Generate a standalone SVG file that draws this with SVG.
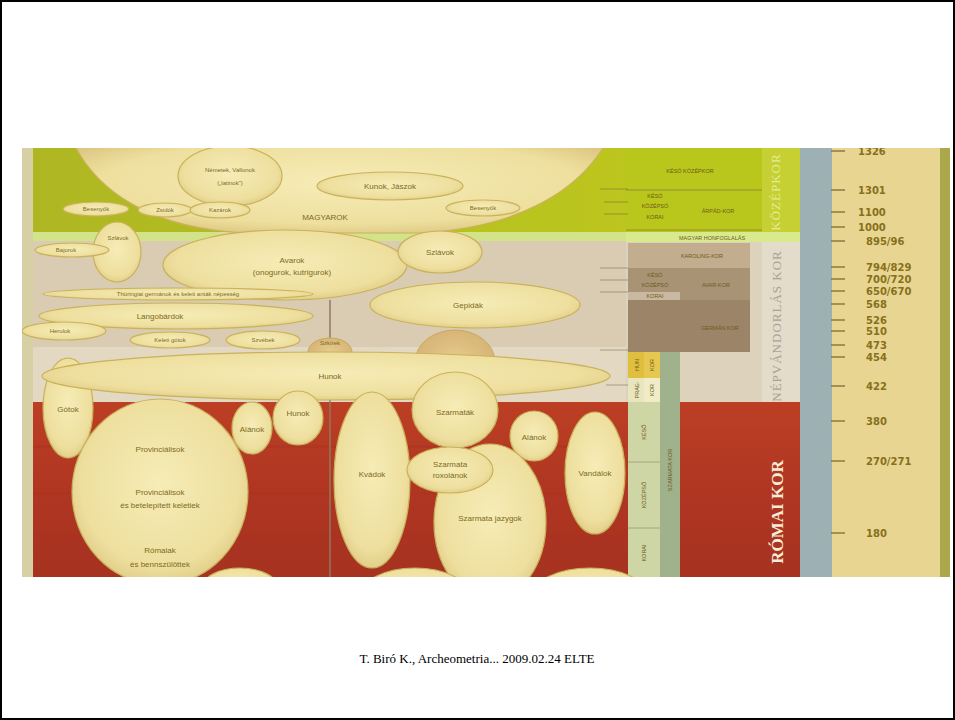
<svg xmlns="http://www.w3.org/2000/svg" width="955" height="720" viewBox="0 0 955 720">
<defs>
<clipPath id="photo"><rect x="22" y="148" width="928" height="429"/></clipPath>
<radialGradient id="cream" cx="0.5" cy="0.45" r="0.6">
<stop offset="0" stop-color="#f6ecb6"/><stop offset="0.75" stop-color="#eedf9e"/><stop offset="1" stop-color="#dcc680"/>
</radialGradient>
<radialGradient id="tan" cx="0.5" cy="0.5" r="0.6">
<stop offset="0" stop-color="#e6cc8e"/><stop offset="1" stop-color="#d4b072"/>
</radialGradient>
<linearGradient id="redg" x1="0" y1="0" x2="0" y2="1">
<stop offset="0" stop-color="#bc3f24"/><stop offset="0.5" stop-color="#b03622"/><stop offset="1" stop-color="#a63220"/>
</linearGradient>
<linearGradient id="greeng" x1="0" y1="0" x2="1" y2="0">
<stop offset="0" stop-color="#aeb622"/><stop offset="1" stop-color="#bcc61e"/>
</linearGradient>
</defs>
<style>
.el{fill:url(#cream);stroke:#c9b25a;stroke-width:1.2}
.tn{fill:url(#tan);stroke:#c9a860;stroke-width:1}
.lb{font-family:"Liberation Sans",Arial,sans-serif;font-size:8px;fill:#7d6a1e;text-anchor:middle}
.lbs{font-family:"Liberation Sans",Arial,sans-serif;font-size:6px;fill:#7d6a1e;text-anchor:middle}
.per{font-family:"Liberation Sans",Arial,sans-serif;font-size:5.5px;fill:#6e5a1a;text-anchor:middle}
.vt{font-family:"Liberation Serif","Times New Roman",serif;text-anchor:middle}
.num{font-family:"DejaVu Sans","Liberation Sans",sans-serif;font-size:10px;font-weight:bold;fill:#86701a}
.tick{stroke:#8a7a40;stroke-width:1.5}
.tl{stroke:#7a6a40;stroke-width:0.8;opacity:0.7}
</style>
<rect x="0" y="0" width="955" height="720" fill="#ffffff"/>
<rect x="1" y="1" width="953" height="718" fill="none" stroke="#000000" stroke-width="2"/>

<g clip-path="url(#photo)">
<g id="bands">
<rect x="22" y="148" width="604" height="86" fill="url(#greeng)"/>
<rect x="22" y="232" width="604" height="9" fill="#d2e38a"/>
<rect x="22" y="241" width="604" height="106" fill="#d9ccb3"/>
<rect x="22" y="347" width="604" height="55" fill="#e3d9c2"/>
<rect x="22" y="402" width="604" height="175" fill="url(#redg)"/>
<rect x="22" y="445" width="604" height="3" fill="#a83220" opacity="0.4"/>
<rect x="22" y="492" width="604" height="3" fill="#a83220" opacity="0.4"/>
<rect x="22" y="535" width="604" height="3" fill="#a83220" opacity="0.4"/>
<rect x="22" y="148" width="11" height="429" fill="#d6d0a4"/>
<line x1="330" y1="300" x2="330" y2="577" stroke="#8e7a60" stroke-width="1.5"/>
</g>

<g id="periods">
<rect x="626" y="148" width="136" height="86" fill="#b9c61c"/>
<rect x="762" y="148" width="38" height="86" fill="#c6d032"/>
<rect x="626" y="232" width="174" height="10" fill="#d8e98e"/>
<rect x="626" y="242" width="174" height="160" fill="#ddd2bb"/>
<rect x="762" y="242" width="38" height="160" fill="#e4dccb"/>
<rect x="626" y="402" width="174" height="175" fill="url(#redg)"/>
<line x1="626" y1="190" x2="762" y2="190" class="tl"/>
<line x1="626" y1="230" x2="762" y2="230" class="tl"/>
<text class="per" x="690" y="173">KÉSŐ KÖZÉPKOR</text>
<text class="per" x="655" y="198">KÉSŐ</text>
<text class="per" x="655" y="208">KÖZÉPSŐ</text>
<text class="per" x="655" y="219">KORAI</text>
<text class="per" x="718" y="213">ÁRPÁD-KOR</text>
<text class="per" x="712" y="240">MAGYAR HONFOGLALÁS</text>
<rect x="628" y="243" width="122" height="25" fill="#c2ad8e"/>
<text class="per" x="702" y="258">KAROLING-KOR</text>
<rect x="628" y="268" width="122" height="32" fill="#a99375"/>
<rect x="628" y="292" width="52" height="8" fill="#c9b9a0"/>
<text class="per" x="655" y="277">KÉSŐ</text>
<text class="per" x="655" y="287">KÖZÉPSŐ</text>
<text class="per" x="655" y="298">KORAI</text>
<text class="per" x="716" y="287">AVAR-KOR</text>
<rect x="628" y="300" width="122" height="52" fill="#9c8468"/>
<text class="per" x="720" y="330">GERMÁN KOR</text>
<rect x="628" y="352" width="16" height="26" fill="#e0bf3e"/>
<rect x="644" y="352" width="16" height="26" fill="#e6c850"/>
<rect x="628" y="378" width="16" height="24" fill="#e9e6bf"/>
<rect x="644" y="378" width="16" height="24" fill="#f0ecc8"/>
<rect x="628" y="402" width="32" height="175" fill="#cfd6a6"/>
<line x1="628" y1="462" x2="660" y2="462" stroke="#98a070" stroke-width="0.8"/>
<line x1="628" y1="528" x2="660" y2="528" stroke="#98a070" stroke-width="0.8"/>
<rect x="660" y="352" width="20" height="225" fill="#9fb28c"/>
<text class="per" transform="translate(639,365) rotate(-90)">HUN</text>
<text class="per" transform="translate(654,365) rotate(-90)">KOR</text>
<text class="per" transform="translate(639,390) rotate(-90)">PRAE-</text>
<text class="per" transform="translate(654,390) rotate(-90)">KOR</text>
<text class="per" transform="translate(646,432) rotate(-90)">KÉSŐ</text>
<text class="per" transform="translate(646,495) rotate(-90)">KÖZÉPSŐ</text>
<text class="per" transform="translate(646,553) rotate(-90)">KORAI</text>
<text class="per" transform="translate(672,470) rotate(-90)">SZARMATA KOR</text>
<text class="vt" transform="translate(780,192) rotate(-90)" font-size="13" fill="#e4ec9a" letter-spacing="1">KÖZÉPKOR</text>
<text class="vt" transform="translate(781,326) rotate(-90)" font-size="13" fill="#a9a393" letter-spacing="1">NÉPVÁNDORLÁS KOR</text>
<text class="vt" transform="translate(783,512) rotate(-90)" font-size="17" font-weight="bold" fill="#f6ecd8">RÓMAI KOR</text>
<g stroke="#6a5a40" stroke-width="0.8" opacity="0.6">
<line x1="600" y1="189" x2="628" y2="189"/><line x1="604" y1="202" x2="628" y2="202"/><line x1="604" y1="214" x2="628" y2="214"/>
<line x1="600" y1="268" x2="628" y2="268"/><line x1="600" y1="280" x2="628" y2="280"/><line x1="600" y1="292" x2="628" y2="292"/>
<line x1="600" y1="350" x2="628" y2="350"/><line x1="606" y1="385" x2="628" y2="385"/>
</g>
</g>

<g id="timeline">
<rect x="800" y="148" width="32" height="429" fill="#9db0b3"/>
<rect x="832" y="148" width="110" height="429" fill="#e9d592"/>
<rect x="940" y="148" width="10" height="429" fill="#a9a84a"/>
<line class="tick" x1="831" y1="151" x2="845" y2="151"/><text class="num" x="858" y="155">1326</text>
<line class="tick" x1="831" y1="190" x2="845" y2="190"/><text class="num" x="858" y="194">1301</text>
<line class="tick" x1="831" y1="212" x2="845" y2="212"/><text class="num" x="858" y="216">1100</text>
<line class="tick" x1="831" y1="227" x2="845" y2="227"/><text class="num" x="858" y="231">1000</text>
<line class="tick" x1="831" y1="241" x2="845" y2="241"/><text class="num" x="866" y="245">895/96</text>
<line class="tick" x1="831" y1="267" x2="845" y2="267"/><text class="num" x="866" y="271">794/829</text>
<line class="tick" x1="831" y1="279" x2="845" y2="279"/><text class="num" x="866" y="283">700/720</text>
<line class="tick" x1="831" y1="291" x2="845" y2="291"/><text class="num" x="866" y="295">650/670</text>
<line class="tick" x1="831" y1="304" x2="845" y2="304"/><text class="num" x="866" y="308">568</text>
<line class="tick" x1="831" y1="320" x2="845" y2="320"/><text class="num" x="866" y="324">526</text>
<line class="tick" x1="831" y1="331" x2="845" y2="331"/><text class="num" x="866" y="335">510</text>
<line class="tick" x1="831" y1="345" x2="845" y2="345"/><text class="num" x="866" y="349">473</text>
<line class="tick" x1="831" y1="357" x2="845" y2="357"/><text class="num" x="866" y="361">454</text>
<line class="tick" x1="831" y1="386" x2="845" y2="386"/><text class="num" x="866" y="390">422</text>
<line class="tick" x1="831" y1="421" x2="845" y2="421"/><text class="num" x="866" y="425">380</text>
<line class="tick" x1="831" y1="461" x2="845" y2="461"/><text class="num" x="866" y="465">270/271</text>
<line class="tick" x1="831" y1="533" x2="845" y2="533"/><text class="num" x="866" y="537">180</text>
</g>

<g id="magyarok"><path class="el" d="M72 140 C95 190 150 230 250 233 L420 233 C520 228 580 190 608 140 Z"/><text class="lb" x="325" y="220">MAGYAROK</text></g>
<g id="nemetek"><ellipse class="el" cx="230" cy="176" rx="52" ry="30"/><text class="lbs" x="230" y="172">Németek, Vallonok</text><text class="lbs" x="230" y="185">(„latinok”)</text></g>
<g id="kunok"><ellipse class="el" cx="390" cy="186" rx="73" ry="14"/><text class="lb" x="390" y="189">Kunok, Jászok</text></g>
<g id="besenyok1"><ellipse class="el" cx="96" cy="209" rx="33" ry="7"/><text class="lbs" x="96" y="211">Besenyők</text></g>
<g id="zsidok"><ellipse class="el" cx="165" cy="210" rx="27" ry="7"/><text class="lbs" x="165" y="212">Zsidók</text></g>
<g id="kazarok"><ellipse class="el" cx="220" cy="210" rx="30" ry="8"/><text class="lbs" x="220" y="212">Kazárok</text></g>
<g id="besenyok2"><ellipse class="el" cx="483" cy="208" rx="37" ry="8"/><text class="lbs" x="483" y="210">Besenyők</text></g>
<g id="szlavok1"><ellipse class="el" cx="117" cy="252" rx="24" ry="30"/><text class="lbs" x="118" y="240">Szlávok</text></g>
<g id="bajorok"><ellipse class="el" cx="72" cy="250" rx="37" ry="7"/><text class="lbs" x="66" y="252">Bajorok</text></g>
<g id="avarok"><ellipse class="el" cx="285" cy="265" rx="122" ry="35"/><text class="lb" x="292" y="263">Avarok</text><text class="lb" x="292" y="275">(onogurok, kutrigurok)</text></g>
<g id="szlavok2"><ellipse class="el" cx="440" cy="252" rx="42" ry="21"/><text class="lb" x="440" y="255">Szlávok</text></g>
<g id="thuring"><ellipse class="el" cx="178" cy="294" rx="135" ry="6"/><text class="lbs" x="178" y="296">Thüringiai germánok és keleti anták népesség</text></g>
<g id="gepidak"><ellipse class="el" cx="475" cy="305" rx="105" ry="23"/><text class="lb" x="468" y="308">Gepidák</text></g>
<g id="langobardok"><ellipse class="el" cx="176" cy="316" rx="137" ry="13"/><text class="lb" x="160" y="319">Langobárdok</text></g>
<g id="herulok"><ellipse class="el" cx="64" cy="331" rx="42" ry="9"/><text class="lbs" x="60" y="333">Herulok</text></g>
<g id="keleti-gotok"><ellipse class="el" cx="170" cy="340" rx="40" ry="8"/><text class="lbs" x="170" y="342">Keleti gótok</text></g>
<g id="szvebek"><ellipse class="el" cx="263" cy="340" rx="37" ry="9"/><text class="lbs" x="263" y="342">Szvébek</text></g>
<g id="szkirek"><ellipse class="tn" cx="330" cy="352" rx="22" ry="14"/><text class="lbs" x="330" y="345">Szkírek</text></g>
<g id="blob"><ellipse class="tn" cx="455" cy="362" rx="40" ry="32"/></g>
<g id="gotok"><ellipse class="el" cx="68" cy="408" rx="25" ry="50"/><text class="lb" x="68" y="412">Gótok</text></g>
<g id="hunok-big"><ellipse class="el" cx="326" cy="376" rx="284" ry="24"/><text class="lb" x="330" y="379">Hunok</text></g>
<g id="provincialisok"><ellipse class="el" cx="160" cy="492" rx="88" ry="93"/><text class="lb" x="160" y="452">Provinciálisok</text><text class="lb" x="160" y="495">Provinciálisok</text><text class="lb" x="160" y="508">és betelepített keletiek</text><text class="lb" x="160" y="553">Rómaiak</text><text class="lb" x="160" y="567">és bennszülöttek</text></g>
<g id="bottom-left"><ellipse class="el" cx="240" cy="588" rx="38" ry="20"/></g>
<g id="alanok1"><ellipse class="el" cx="252" cy="428" rx="20" ry="26"/><text class="lb" x="252" y="432">Alánok</text></g>
<g id="hunok-small"><ellipse class="el" cx="298" cy="418" rx="25" ry="27"/><text class="lb" x="298" y="416">Hunok</text></g>
<g id="kvadok"><ellipse class="el" cx="372" cy="480" rx="38" ry="88"/><text class="lb" x="372" y="477">Kvádok</text></g>
<g id="szarmatak"><ellipse class="el" cx="455" cy="410" rx="43" ry="38"/><text class="lb" x="455" y="415">Szarmaták</text></g>
<g id="alanok2"><ellipse class="el" cx="534" cy="436" rx="24" ry="25"/><text class="lb" x="534" y="440">Alánok</text></g>
<g id="jazygok"><ellipse class="el" cx="490" cy="522" rx="56" ry="78"/><text class="lb" x="490" y="521">Szarmata jazygok</text></g>
<g id="roxolanok"><ellipse class="el" cx="450" cy="470" rx="43" ry="23"/><text class="lb" x="450" y="467">Szarmata</text><text class="lb" x="450" y="478">roxolánok</text></g>
<g id="vandalok"><ellipse class="el" cx="595" cy="473" rx="30" ry="61"/><text class="lb" x="595" y="476">Vandálok</text></g>
<g id="bottom-mid"><ellipse class="el" cx="415" cy="596" rx="55" ry="28"/></g>
<g id="bottom-right"><ellipse class="el" cx="590" cy="596" rx="58" ry="28"/></g>
</g>
<g id="connectors"></g>
<text x="477" y="663" font-family="Liberation Serif,'Times New Roman',serif" font-size="13" text-anchor="middle" fill="#000000">T. Biró K., Archeometria... 2009.02.24 ELTE</text>
</svg>
